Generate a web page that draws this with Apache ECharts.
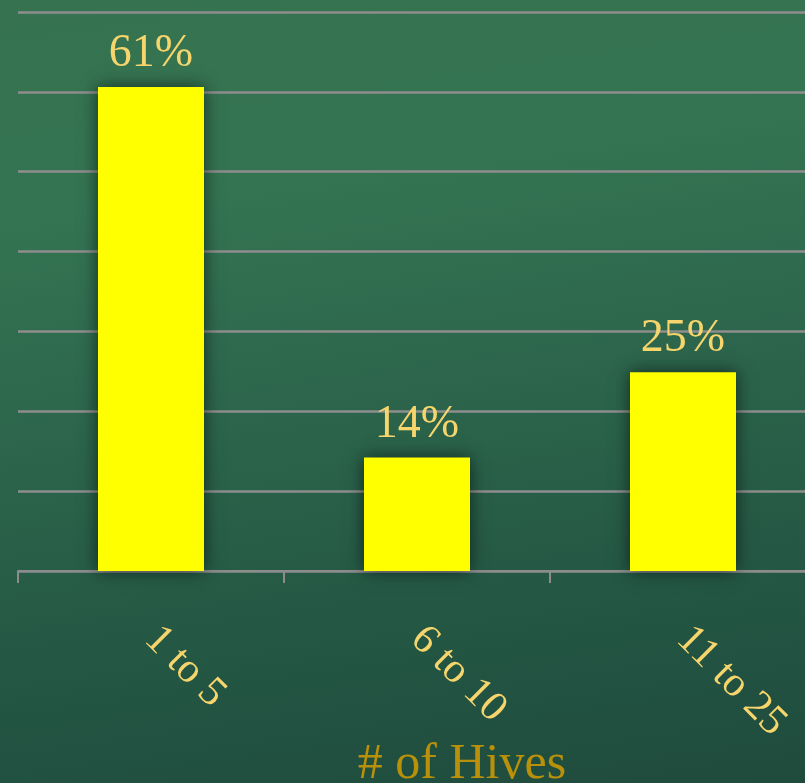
<!DOCTYPE html>
<html>
<head>
<meta charset="utf-8">
<script src="https://cdn.jsdelivr.net/npm/echarts@6/dist/echarts.min.js"></script>
<style>
  html, body { margin: 0; padding: 0; }
  #chart {
    width: 805px; height: 783px;
    background: linear-gradient(172deg, #367250 0%, #347452 25%, #2c654b 50%, #245744 75%, #1f4b3d 100%);
  }
</style>
</head>
<body>
<div id="chart"></div>
<script>
const categories = ['1 to 5', '6 to 10', '11 to 25'];
const shareValues = [60.6, 14.2, 24.9];
const axisTitle = '# of Hives';

const chart = echarts.init(document.getElementById('chart'), null, { renderer: 'canvas' });
const serifFont = '"Liberation Serif", "DejaVu Serif", serif';

chart.setOption({
  backgroundColor: 'transparent',
  grid: { left: 18, top: 12, width: 798, height: 559, containLabel: false, outerBoundsMode: 'none' },
  xAxis: {
    type: 'category',
    data: categories,
    axisLine: { lineStyle: { color: '#8c8c8c', width: 2 } },
    axisTick: { show: true, length: 12, lineStyle: { color: '#8c8c8c', width: 2 } },
    axisLabel: {
      rotate: -45,
      margin: 62,
      color: '#f6d56c',
      fontFamily: serifFont,
      fontSize: 42,
      interval: 0
    },
    name: axisTitle,
    nameLocation: 'middle',
    nameGap: 169,
    nameMoveOverlap: false,
    nameTextStyle: {
      color: '#b8900a',
      fontFamily: serifFont,
      fontSize: 50,
      padding: [0, 0, 0, 90]
    }
  },
  yAxis: {
    type: 'value',
    min: 0,
    max: 70,
    interval: 10,
    axisLine: { show: false },
    axisTick: { show: false },
    axisLabel: { show: false },
    splitLine: { lineStyle: { color: '#8e8e8e', width: 2.5 } }
  },
  series: [{
    type: 'bar',
    data: shareValues,
    barWidth: 106,
    itemStyle: {
      color: '#ffff00',
      shadowColor: 'rgba(0,0,0,0.6)',
      shadowBlur: 16,
      shadowOffsetX: 0,
      shadowOffsetY: 0
    },
    label: {
      show: true,
      position: 'top',
      distance: 10,
      color: '#f6d56c',
      fontFamily: serifFont,
      fontSize: 46,
      formatter: p => Math.round(p.value) + '%'
    }
  }],
  animation: false
});
</script>
</body>
</html>
